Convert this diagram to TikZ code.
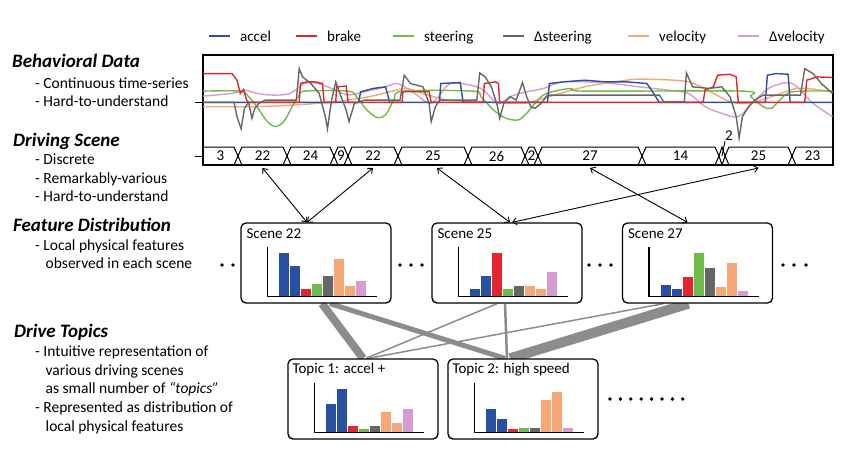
\documentclass[tikz,border=0pt]{standalone}
\usepackage{fontspec}
\setmainfont{Carlito}
\usetikzlibrary{arrows.meta,backgrounds}

\definecolor{accel}{HTML}{2A50A4}
\definecolor{brake}{HTML}{E4252B}
\definecolor{steer}{HTML}{6CBD47}
\definecolor{dsteer}{HTML}{666666}
\definecolor{velo}{HTML}{F7A775}
\definecolor{dvelo}{HTML}{D69CCF}
\definecolor{linkgray}{HTML}{8C8C8C}

\tikzset{
  box/.style={draw, line width=1.3pt, rounded corners=5pt, fill=white,
    minimum width=150pt, minimum height=80pt},
  head/.style={anchor=base west, inner sep=0pt,
    font=\fontsize{19}{22}\selectfont\bfseries\itshape},
  item/.style={anchor=base west, inner sep=0pt, font=\fontsize{15.5}{18}\selectfont},
  title/.style={anchor=base west, inner sep=0pt},
  link/.style={draw=linkgray, line width=#1},
  pair/.style={{Straight Barb[length=4pt,width=7pt]}-{Straight Barb[length=4pt,width=7pt]},
    line width=0.9pt},
}

% one small histogram in a box: node name, then 8 bar heights
\newcommand\histo[9]{%
  \begin{scope}[shift={(#1.south west)}]
    \foreach \h/\c [count=\i] in {#2/accel,#3/accel,#4/brake,#5/steer,#6/dsteer,#7/velo,#8/velo,#9/dvelo}
      \fill[\c] ({28+11*\i},-7.5) rectangle ++(9.7,-\h);
    \draw[line width=1.3pt] (27,-56.5) -- (27,-7.5) -- (137,-7.5);
  \end{scope}}

\begin{document}
\begin{tikzpicture}[x=1pt, y=-1pt, font=\fontsize{15}{18}\selectfont]
  \useasboundingbox (0,0) rectangle (850,451);

  % legend
  \foreach \x/\c/\t [count=\i] in {209/accel/accel, 296/brake/brake, 393/steer/steering,
      503/dsteer/Δsteering, 628/velo/velocity, 738/dvelo/Δvelocity}{
    \draw[\c, line width=2.2pt] (\x,36) -- ++(21,0);
    \node[anchor=base west, inner sep=0pt] (leg\i) at (\x+31,41) {\t};
  }

  % left column
  \node[head] (behav) at (12,67) {Behavioral Data};
  \node[item] (behav1) at (35,88) {- Continuous time-series};
  \node[item] (behav2) at (35,106) {- Hard-to-understand};
  \node[head] (scene) at (13,146) {Driving Scene};
  \node[item] (scene1) at (35,164) {- Discrete};
  \node[item] (scene2) at (35,183) {- Remarkably-various};
  \node[item] (scene3) at (35,201.5) {- Hard-to-understand};
  \node[head] (feat) at (13,231) {Feature Distribution};
  \node[item] (feat1) at (35,250.5) {- Local physical features};
  \node[item] (feat2) at (45.5,268.5) {observed in each scene};
  \node[head] (topic) at (14,337) {Drive Topics};
  \node[item] (topic1) at (35,356.5) {- Intuitive representation of};
  \node[item] (topic2) at (45.5,375) {various driving scenes};
  \node[item] (topic3) at (45.5,393.5) {as small number of \textit{“topics”}};
  \node[item] (topic4) at (35,412.5) {- Represented as distribution of};
  \node[item] (topic5) at (45.5,431) {local physical features};

  % time series
  \draw[line width=1.2pt] (203,55) rectangle (833,165);
  \draw[line width=1pt] (195,102) -- (203,102) (195,156) -- (203,156);
  \begin{scope}
    \clip (203,55) rectangle (833,147);
    \begin{scope}[shift={(190.5,50.4)}, xscale=0.415, yscale=0.331, line width=1.4pt]
      \draw[velo] plot[smooth] coordinates {(30,170) (150,170) (250,165) (350,155) (430,140)
        (480,125) (520,115) (560,130) (620,150) (700,155) (800,160) (850,145) (950,110)
        (1050,90) (1100,87) (1200,95) (1260,130) (1300,155) (1340,160) (1400,140)
        (1460,115) (1520,120) (1547,125)};
      \draw[dvelo] plot[smooth] coordinates {(30,138) (100,130) (130,120) (160,130) (200,135)
        (240,130) (275,100) (300,98) (330,110) (350,120) (380,135) (420,125) (470,110)
        (500,100) (540,130) (580,160) (620,105) (650,100) (700,115) (740,160) (770,140)
        (800,128) (850,115) (900,95) (1000,98) (1080,110) (1150,120) (1200,130) (1240,170)
        (1280,190) (1320,200) (1360,150) (1400,110) (1450,100) (1500,160) (1547,200)};
      \draw[steer] plot[smooth] coordinates {(30,123) (120,123) (140,140) (160,170) (185,215)
        (205,230) (225,215) (245,170) (260,140) (275,123) (380,123) (400,140) (425,180)
        (450,203) (470,195) (490,150) (510,123) (680,123) (700,140) (730,180) (760,205)
        (790,210) (810,190) (830,160) (850,135) (880,122) (920,115) (950,123) (1330,123)
        (1350,140) (1380,170) (1400,175) (1420,150) (1450,125) (1547,123)};
      \draw[accel] (30,157) -- (405,157) -- (410,125) -- (440,115) -- (470,110) -- (480,157)
        -- (600,157) -- (603,100) -- (650,97) -- (657,157) -- (860,157) -- (865,100)
        -- (900,95) -- (950,90) -- (1000,95) -- (1050,95) -- (1100,100) -- (1130,157)
        -- (1385,157) -- (1390,75) -- (1410,70) -- (1440,72) -- (1445,157) -- (1547,157);
      \draw[brake] (30,70) -- (100,70) -- (112,90) -- (120,130) -- (128,118) -- (135,150)
        -- (140,157) -- (262,157) -- (265,100) -- (280,95) -- (300,95) -- (318,100)
        -- (322,157) -- (350,157) -- (352,110) -- (375,108) -- (380,157) -- (510,157)
        -- (512,125) -- (575,125) -- (580,157) -- (705,157) -- (708,100) -- (735,95)
        -- (742,100) -- (745,157) -- (1235,157) -- (1240,120) -- (1260,110) -- (1270,75)
        -- (1300,72) -- (1315,80) -- (1320,157) -- (1480,157) -- (1485,90) -- (1510,80)
        -- (1547,82);
      \draw[dsteer] (30,157) -- (105,157) -- (112,200) -- (122,237) -- (130,175) -- (140,157)
        -- (148,205) -- (155,175) -- (165,160) -- (180,150) -- (255,150) -- (262,55)
        -- (270,80) -- (290,100) -- (310,130) -- (325,200) -- (330,237) -- (340,150)
        -- (350,95) -- (360,130) -- (375,180) -- (382,215) -- (395,160) -- (420,150)
        -- (505,150) -- (515,75) -- (530,100) -- (560,110) -- (575,160) -- (580,215)
        -- (590,170) -- (600,150) -- (690,150) -- (697,68) -- (710,80) -- (725,110)
        -- (740,170) -- (745,205) -- (755,160) -- (770,140) -- (785,150) -- (800,97)
        -- (810,140) -- (820,170) -- (830,175) -- (845,160) -- (860,135) -- (1130,135)
        -- (1140,155) -- (1190,155) -- (1195,68) -- (1210,110) -- (1250,115) -- (1280,110)
        -- (1300,140) -- (1315,200) -- (1322,265) -- (1330,200) -- (1345,170) -- (1360,150)
        -- (1380,135) -- (1470,135) -- (1480,55) -- (1500,70) -- (1520,100) -- (1547,130);
    \end{scope}
  \end{scope}

  % scene strip
  \foreach \a/\b/\t [count=\i] in {203/238/3, 238/287/22, 287/334/24, 334/348/9, 348/398/22,
      398/468/25, 468/525/26, 525/538/2, 538/642/27, 642/719/14, 719/725/{}, 725/792/25,
      792/833/23}{
    \pgfmathsetmacro\dl{\i==1 ? 0 : min(4,(\b-\a)/2)}
    \pgfmathsetmacro\dr{\i==13 ? 0 : min(4,(\b-\a)/2)}
    \draw[line width=1pt] (\a+\dl,147) -- (\b-\dr,147) -- (\b,156) -- (\b-\dr,165)
      -- (\a+\dl,165) -- (\a,156) -- cycle;
    \node[inner sep=0pt] (cell\i) at ({(\a+\b)/2},156) {\t};
  }
  \node[inner sep=0pt] (lbl11) at (729,136) {2};
  \draw[line width=0.9pt] (cell11.center) -- (lbl11.south west);

  % scene boxes
  \node[box] (sc22) at (316,263) {};
  \node[box] (sc25) at (507,263) {};
  \node[box] (sc27) at (697.5,263) {};
  \node[title] (sc22t) at ([shift={(6,16)}]sc22.north west) {Scene 22};
  \node[title] (sc25t) at ([shift={(6,16)}]sc25.north west) {Scene 25};
  \node[title] (sc27t) at ([shift={(6,16)}]sc27.north west) {Scene 27};
  \histo{sc22}{42.7}{30}{6.7}{12}{20.3}{36.7}{9.7}{15}
  \histo{sc25}{7.3}{20.3}{42.7}{6.7}{10.3}{9.7}{7.3}{23.7}
  \histo{sc27}{10.7}{6.7}{19.3}{42.7}{28}{9.3}{32.7}{4.7}

  % strip to scene
  \draw[pair] ([yshift=-12pt]cell2.center) -- ([xshift=-9pt]sc22.north);
  \draw[pair] ([yshift=-12pt]cell5.center) -- ([xshift=-9pt]sc22.north);
  \draw[pair] ([shift={(4pt,-12pt)}]cell6.center) -- ([xshift=3pt]sc25.north);
  \draw[pair] ([yshift=-12pt]cell9.center) -- ([xshift=-10pt]sc27.north);
  \draw[pair] ([yshift=-12pt]cell12.center) -- ([xshift=5pt]sc25.north);

  \foreach \x in {222,233,400,411,422,589,600,611,783,794,806}
    \fill (\x,265) circle (1.9pt);

  % topic boxes
  \node[box] (tp1) at (363,399) {};
  \node[box] (tp2) at (523,399) {};
  \node[title] (tp1t) at ([shift={(5,15)}]tp1.north west) {Topic 1: accel +};
  \node[title] (tp2t) at ([shift={(5,15)}]tp2.north west) {Topic 2: high speed};
  \histo{tp1}{27.7}{43.3}{6.3}{2.7}{6}{20.3}{9.3}{23}
  \histo{tp2}{23}{12.7}{2.7}{4}{4}{32}{40.3}{3.7}
  \foreach \i in {0,...,7}
    \fill ({610+10.4*\i},399) circle (1.9pt);

  % scene to topic weights
  \begin{scope}[on background layer]
    \draw[link=8pt] ([xshift=6pt]sc22.south) -- (tp1.north);
    \draw[link=5pt] ([xshift=14pt]sc22.south) -- ([xshift=-18pt]tp2.north);
    \draw[link=1.5pt] ([xshift=-10pt]sc25.south) -- ([xshift=3pt]tp1.north);
    \draw[link=2.5pt] ([xshift=-2pt]sc25.south) -- ([xshift=-16pt]tp2.north);
    \draw[link=1.5pt] ([xshift=-34pt]sc27.south) -- ([xshift=5pt]tp1.north);
    \draw[link=10pt] ([xshift=-9pt]sc27.south) -- ([xshift=-13pt]tp2.north);
  \end{scope}
\end{tikzpicture}
\end{document}
